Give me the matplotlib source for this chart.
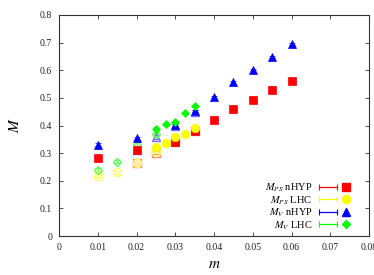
import matplotlib
matplotlib.use("Agg")
import matplotlib.pyplot as plt
from matplotlib.lines import Line2D
from matplotlib.legend_handler import HandlerLine2D, HandlerTuple

plt.rcParams['font.family'] = ['Liberation Serif', 'DejaVu Serif']
plt.rcParams['mathtext.fontset'] = 'stix'

# filled data sets
m_nhyp = [0.01, 0.02, 0.03, 0.035, 0.04, 0.045, 0.05, 0.055, 0.06]
Mps_nhyp = [0.284, 0.310, 0.341, 0.380, 0.421, 0.459, 0.493, 0.527, 0.561]
Mv_nhyp = [0.331, 0.355, 0.402, 0.452, 0.503, 0.556, 0.601, 0.647, 0.694]
err_nhyp = [0.004, 0.004, 0.004, 0.004, 0.004, 0.004, 0.004, 0.004, 0.004]

m_lhc = [0.025, 0.0275, 0.03, 0.0325, 0.035]
Mps_lhc = [0.323, 0.335, 0.357, 0.368, 0.391]
Mv_lhc = [0.389, 0.404, 0.413, 0.446, 0.470]
err_lhc = [0.004, 0.004, 0.004, 0.004, 0.004]

# open (lighter) data sets
m_nhyp_o = [0.02, 0.025, 0.03, 0.035]
Mps_nhyp_o = [0.263, 0.302, 0.340, 0.380]
Mv_nhyp_o = [0.310, 0.358, 0.400, 0.450]
err_nhyp_o = [0.006, 0.006, 0.006, 0.006]

m_lhc_o = [0.01, 0.015, 0.02, 0.025]
Mps_lhc_o = [0.218, 0.230, 0.263, 0.305]
Mv_lhc_o = [0.239, 0.269, 0.330, 0.368]
err_lhc_o = [0.006, 0.006, 0.006, 0.006]

labels = [r'$M_{PS}$ nHYP', r'$M_{PS}$ LHC', r'$M_V$ nHYP', r'$M_V$ LHC']
colors = ['#ff0000', '#ffff00', '#0000ff', '#00ff00']
light = ['#ff8080', '#ffff60', '#7070ff', '#60ff60']
markers = ['s', 'o', '^', 'D']
msizes = [5.5, 6.0, 5.5, 4.2]

xticks = [0, 0.01, 0.02, 0.03, 0.04, 0.05, 0.06, 0.07, 0.08]
xticklabels = ['0', '0.01', '0.02', '0.03', '0.04', '0.05', '0.06', '0.07', '0.08']
yticks = [0, 0.1, 0.2, 0.3, 0.4, 0.5, 0.6, 0.7, 0.8]
yticklabels = ['0', '0.1', '0.2', '0.3', '0.4', '0.5', '0.6', '0.7', '0.8']

fig = plt.figure(figsize=(3.74, 2.75), dpi=100)
ax = fig.add_axes([59/374, 39/275, 310/374, 221/275])

filled = [(m_nhyp, Mps_nhyp, err_nhyp), (m_lhc, Mps_lhc, err_lhc),
          (m_nhyp, Mv_nhyp, err_nhyp), (m_lhc, Mv_lhc, err_lhc)]
opened = [(m_nhyp_o, Mps_nhyp_o, err_nhyp_o), (m_lhc_o, Mps_lhc_o, err_lhc_o),
          (m_nhyp_o, Mv_nhyp_o, err_nhyp_o), (m_lhc_o, Mv_lhc_o, err_lhc_o)]

# open markers first
for i, (x, y, e) in enumerate(opened):
    ax.errorbar(x, y, yerr=e, fmt=markers[i], ms=msizes[i], mfc='none',
                mec=light[i], mew=1.0, ecolor=light[i], elinewidth=0.8,
                capsize=2, capthick=0.8, zorder=2)

for i, (x, y, e) in enumerate(filled):
    ax.errorbar(x, y, yerr=e, fmt=markers[i], ms=msizes[i], mfc=colors[i],
                mec=colors[i], mew=0.5, ecolor=colors[i], elinewidth=0.8,
                capsize=2, capthick=0.8, zorder=3)

ax.set_xlim(0, 0.08)
ax.set_ylim(0, 0.8)
ax.set_xticks(xticks)
ax.set_xticklabels(xticklabels)
ax.set_yticks(yticks)
ax.set_yticklabels(yticklabels)
ax.tick_params(direction='in', top=True, right=True, length=3, width=0.6,
               labelsize=7, pad=5, colors='#333333', labelcolor='#222222')
for s in ax.spines.values():
    s.set_linewidth(0.8)
    s.set_color('#333333')

ax.set_xlabel(r'$m$', fontsize=11, labelpad=4)
ax.set_ylabel(r'$M$', fontsize=11, labelpad=13)

handles = []
hmap = {}
for i in range(4):
    cap = Line2D([], [], color=colors[i], lw=0.9, marker='|', ms=4, mew=0.8)
    mk = Line2D([], [], color=colors[i], marker=markers[i], ms=msizes[i],
                linestyle='none')
    hmap[cap] = HandlerLine2D(numpoints=2, marker_pad=0)
    hmap[mk] = HandlerLine2D(numpoints=1)
    handles.append((cap, mk))
hmap[tuple] = HandlerTuple(ndivide=None, pad=0)

leg = ax.legend(handles, labels, handler_map=hmap, loc='lower right',
                markerfirst=False, frameon=False, fontsize=7.5,
                handlelength=3.5, handletextpad=0.6, labelspacing=0.0,
                borderaxespad=0.0, borderpad=0.0,
                bbox_to_anchor=(0.955, 0.02))
for t in leg.get_texts():
    t.set_ha('right')

fig.savefig('out.png', dpi=100)
